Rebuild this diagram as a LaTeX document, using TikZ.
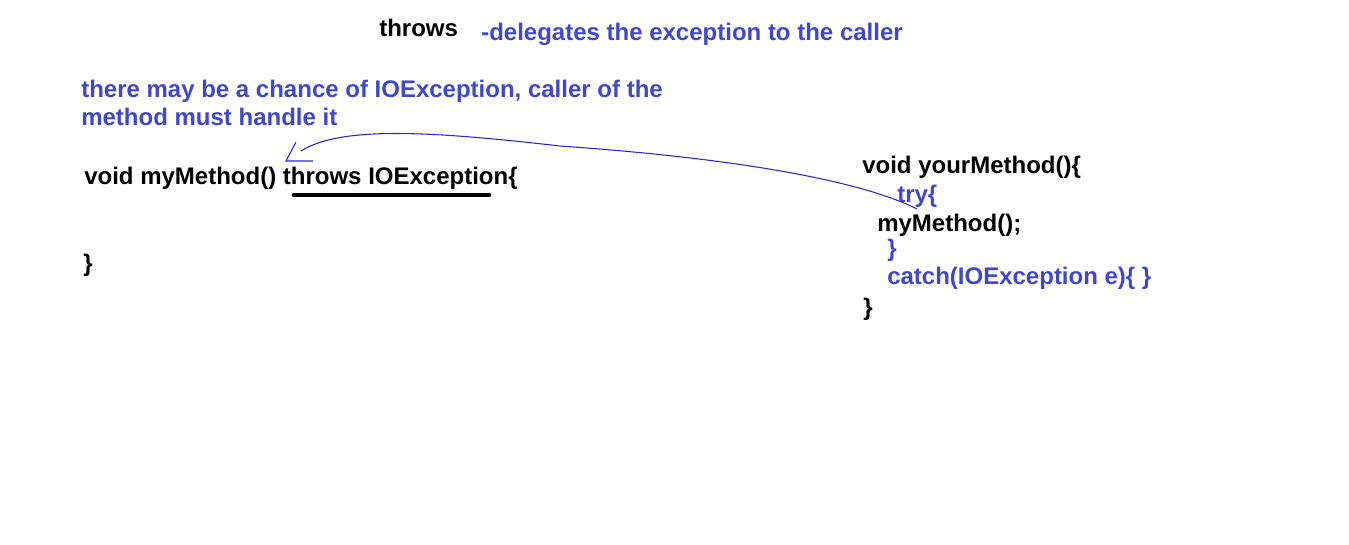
\documentclass[tikz,border=0pt]{standalone}
\usepackage{fontspec}
\setmainfont{Liberation Sans}
\usetikzlibrary{calc}
\definecolor{paintblue}{RGB}{63,72,204}
\definecolor{penblue}{RGB}{40,40,210}
\tikzset{
  codetext/.style={
    anchor=base west,
    inner sep=0pt,
    text=black,
    font=\fontsize{18}{21.6}\selectfont\bfseries
  },
  bluetext/.style={codetext,text=paintblue},
  callpath/.style={draw=penblue,line width=0.8pt},
  underline/.style={draw=black,line width=3.6pt,line cap=round}
}

\begin{document}
\begin{tikzpicture}[x=0.75pt,y=-0.75pt]
  \useasboundingbox (0,0) rectangle (1349,544);
  \fill[white] (0,0) rectangle (1349,544);

  % Heading
  \node[codetext] (throwskw) at (379,36) {throws};
  \node[bluetext] (delegates) at (481,40) {-delegates the exception to the caller};

  % Left method
  \node[bluetext] (chanceone) at (81,97) {there may be a chance of IOException, caller of the};
  \node[bluetext] (chancetwo) at (81,125) {method must handle it};
  \node[codetext] (mymethod) at (84,184) {void myMethod() throws IOException\{};
  \node[codetext] (myclose) at (83,271) {\}};
  \draw[underline] (294,195) -- (489,195);

  % Right method
  \node[codetext] (yourmethod) at (862,173) {void yourMethod()\{};
  \node[bluetext] (trykw) at (897,202) {try\{};
  \node[codetext] (callmy) at (877,231) {myMethod();};
  \node[bluetext] (tryclose) at (887,256) {\}};
  \node[bluetext] (catchline) at (887,284) {catch(IOException e)\{ \}};
  \node[codetext] (yourclose) at (863,315) {\}};

  % Call connector
  \coordinate (callstart) at (917,209);
  \coordinate (callmid) at (560,146);
  \coordinate (callend) at (301,151);
  \draw[callpath] (callstart) .. controls (870,185) and (760,160) .. (callmid)
    .. controls (430,131) and (340,126) .. (callend);
  \draw[callpath] ($(callend)+(-5,-9)$) -- ($(callend)+(-15,10)$) -- ($(callend)+(12,10)$);
\end{tikzpicture}
\end{document}
